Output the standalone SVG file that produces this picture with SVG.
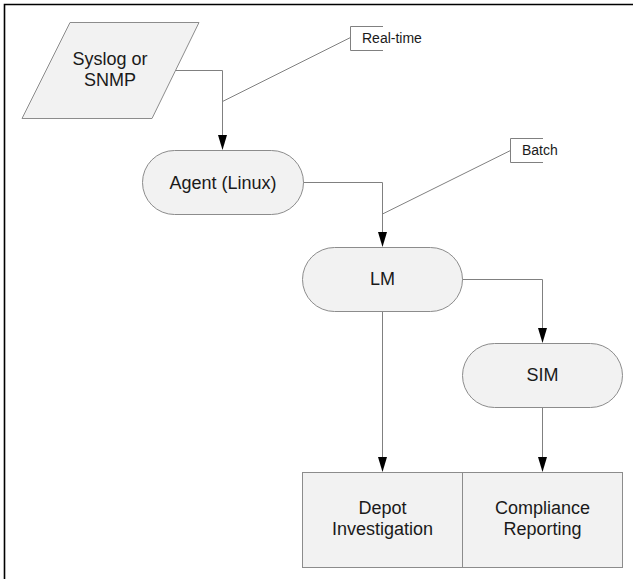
<svg xmlns="http://www.w3.org/2000/svg" width="633" height="579" viewBox="0 0 633 579">
<defs>
<style>
.node{fill:#f2f2f2;stroke:#8c8c8c;stroke-width:1}
.t{font-family:"Liberation Sans",Arial,sans-serif;font-size:18px;fill:#1a1a1a;text-anchor:middle}
.s{font-family:"Liberation Sans",Arial,sans-serif;font-size:14px;fill:#1a1a1a}
.c{fill:none;stroke:#808080;stroke-width:1}
.ah{fill:#000}
</style>
</defs>
<rect width="633" height="579" fill="#fff"/>
<path d="M4.5,579 V4.5 H633" fill="none" stroke="#000" stroke-width="1.6"/>

<g id="connectors">
<path class="c" d="M175,70.5 H222.5 V135"/>
<path class="ah" d="M218,135 H227 L222.5,150 Z"/>
<path class="c" d="M303,182.5 H382.5 V232"/>
<path class="ah" d="M378,232 H387 L382.5,247 Z"/>
<path class="c" d="M462,279.5 H542.5 V328"/>
<path class="ah" d="M538,328 H547 L542.5,343 Z"/>
<path class="c" d="M382.5,311 V457"/>
<path class="ah" d="M378,457 H387 L382.5,472 Z"/>
<path class="c" d="M542.5,407 V457"/>
<path class="ah" d="M538,457 H547 L542.5,472 Z"/>
</g>

<g id="callout-realtime">
<path class="c" d="M222.5,101.5 L350.5,37.5"/>
<path class="c" d="M383,26.5 H350.5 V50.5 H383"/>
<text class="s" x="362" y="43">Real-time</text>
</g>

<g id="callout-batch">
<path class="c" d="M382.5,214 L510.5,150.5"/>
<path class="c" d="M543,138.5 H510.5 V162.5 H543"/>
<text class="s" x="522" y="155">Batch</text>
</g>

<g id="syslog">
<polygon class="node" points="70,22.5 199,22.5 152,118.5 22,118.5"/>
<text class="t" x="110" y="65">Syslog or</text>
<text class="t" x="110" y="86">SNMP</text>
</g>

<g id="agent">
<rect class="node" x="142.5" y="150.5" width="161" height="64" rx="32" ry="32"/>
<text class="t" x="223" y="189">Agent (Linux)</text>
</g>

<g id="lm">
<rect class="node" x="302.5" y="247.5" width="160" height="64" rx="32" ry="32"/>
<text class="t" x="382.5" y="285">LM</text>
</g>

<g id="sim">
<rect class="node" x="462.5" y="343.5" width="160" height="64" rx="32" ry="32"/>
<text class="t" x="542.5" y="381">SIM</text>
</g>

<g id="depot">
<rect class="node" x="302.5" y="472.5" width="160" height="95"/>
<text class="t" x="382.5" y="514">Depot</text>
<text class="t" x="382.5" y="535">Investigation</text>
</g>

<g id="compliance">
<rect class="node" x="462.5" y="472.5" width="160" height="95"/>
<text class="t" x="542.5" y="514">Compliance</text>
<text class="t" x="542.5" y="535">Reporting</text>
</g>
</svg>
